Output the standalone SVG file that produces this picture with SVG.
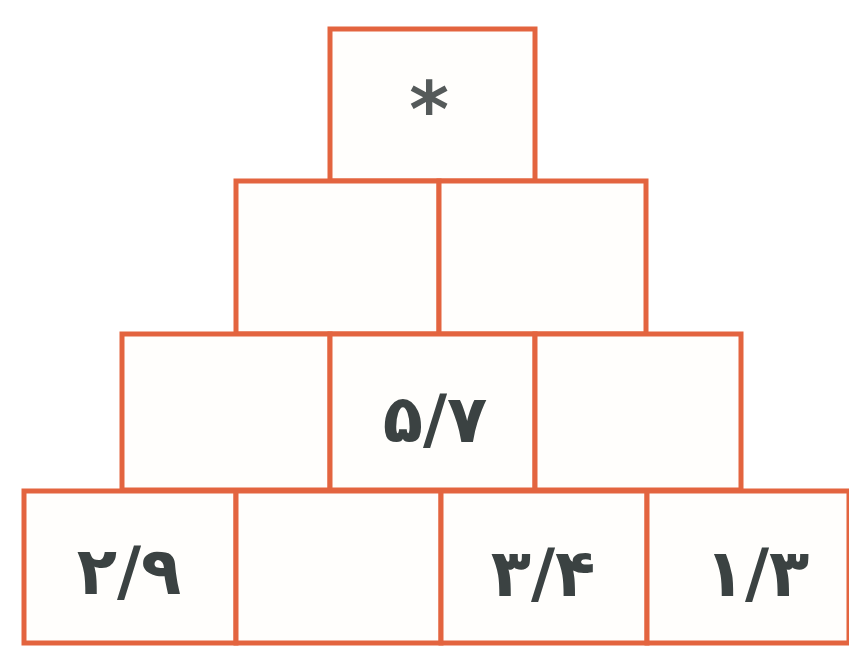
<svg xmlns="http://www.w3.org/2000/svg" width="849" height="646" viewBox="0 0 849 646">
<style>
.cell{fill:#fffefc;stroke:#e3643f;stroke-width:5}
.num{font-family:"DejaVu Sans",sans-serif;font-weight:bold;font-size:66px;fill:#3b4242;text-anchor:middle;direction:ltr}
.star{font-family:"DejaVu Sans",sans-serif;font-weight:bold;font-size:76px;fill:#555a5a;text-anchor:middle}
</style>
<rect width="849" height="646" fill="#ffffff"/>
<g id="r1c1"><rect class="cell" x="330" y="29" width="205" height="152"/><text class="star" x="429" y="136">*</text></g>
<g id="r2c1"><rect class="cell" x="236" y="181" width="203" height="153"/></g>
<g id="r2c2"><rect class="cell" x="439" y="181" width="207" height="153"/></g>
<g id="r3c1"><rect class="cell" x="122" y="334" width="208" height="156"/></g>
<g id="r3c2"><rect class="cell" x="330" y="334" width="205" height="156"/><text class="num" x="435" y="442">۵/۷</text></g>
<g id="r3c3"><rect class="cell" x="535" y="334" width="206" height="156"/></g>
<g id="r4c1"><rect class="cell" x="24" y="491" width="212" height="152"/><text class="num" x="129" y="594">۲/۹</text></g>
<g id="r4c2"><rect class="cell" x="236" y="491" width="205" height="152"/></g>
<g id="r4c3"><rect class="cell" x="441" y="491" width="206" height="152"/><text class="num" x="543" y="596">۳/۴</text></g>
<g id="r4c4"><rect class="cell" x="647" y="491" width="202" height="152"/><text class="num" x="757" y="596">۱/۳</text></g>
<g id="connectors"></g>
</svg>
